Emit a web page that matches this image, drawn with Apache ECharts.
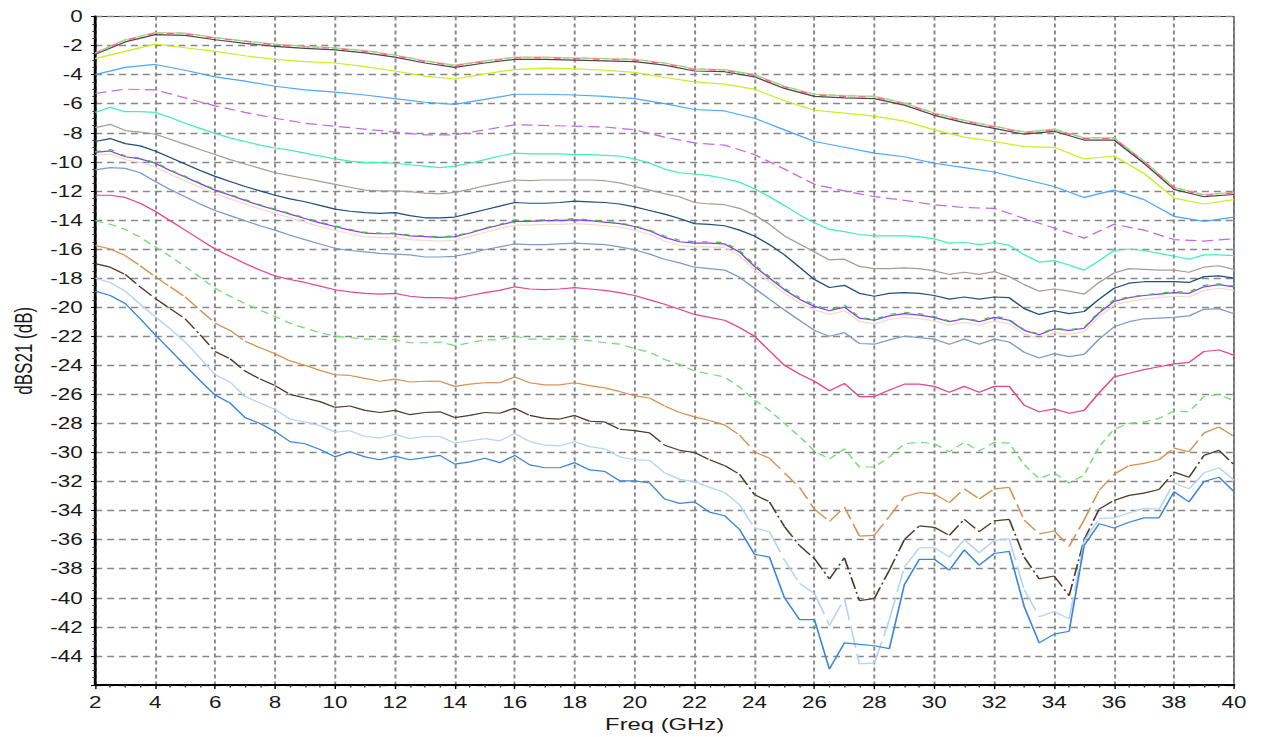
<!DOCTYPE html>
<html>
<head>
<meta charset="utf-8">
<title>dBS21 vs Freq</title>
<script src="https://cdn.jsdelivr.net/npm/echarts@6/dist/echarts.min.js"></script>
<style>
  html, body { margin: 0; padding: 0; background: #fff; }
  #wrap { width: 1263px; height: 737px; overflow: hidden; background: #fff; }
  /* the plot is laid out on a narrower canvas and widened horizontally */
  #chart { width: 902px; height: 737px; transform: scaleX(1.4); transform-origin: 0 0; }
</style>
</head>
<body>
<div id="wrap"><div id="chart"></div></div>
<script>
// Frequency grids (GHz)
const freqCoarse = [2,3,4,5,6,7,8,9,10,11,12,13,14,15,16,17,18,19,20,21,22,23,24,25,26,27,28,29,30,31,32,33,34,35,36,37,38,39,40];
const freqFine = [2,2.5,3,3.5,4,4.5,5,5.5,6,6.5,7,7.5,8,8.5,9,9.5,10,10.5,11,11.5,12,12.5,13,13.5,14,14.5,15,15.5,16,16.5,17,17.5,18,18.5,19,19.5,20,20.5,21,21.5,22,22.5,23,23.5,24,24.5,25,25.5,26,26.5,27,27.5,28,28.5,29,29.5,30,30.5,31,31.5,32,32.5,33,33.5,34,34.5,35,35.5,36,36.5,37,37.5,38,38.5,39,39.5,40];

const xTicks = [2,4,6,8,10,12,14,16,18,20,22,24,26,28,30,32,34,36,38,40];
const yTicks = [0,-2,-4,-6,-8,-10,-12,-14,-16,-18,-20,-22,-24,-26,-28,-30,-32,-34,-36,-38,-40,-42,-44];

// dBS21 traces on the 1 GHz grid
const s21Top1 = [-2.6,-1.75,-1.25,-1.3,-1.6,-1.85,-2.05,-2.2,-2.3,-2.5,-2.8,-3.2,-3.5,
  -3.2,-2.95,-2.95,-3.0,-3.05,-3.1,-3.35,-3.75,-3.8,-4.15,-4.95,-5.5,
  -5.6,-5.65,-6.1,-6.8,-7.3,-7.7,-8.1,-7.9,-8.5,-8.5,-10.1,-11.9,-12.4,-12.25];
const s21Top2 = [-2.5,-1.6,-1.1,-1.15,-1.45,-1.7,-1.9,-2.05,-2.15,-2.35,-2.65,-3.05,-3.35,
  -3.05,-2.8,-2.8,-2.85,-2.9,-2.95,-3.2,-3.6,-3.65,-4.0,-4.8,-5.35,
  -5.45,-5.5,-5.95,-6.65,-7.15,-7.55,-7.95,-7.75,-8.35,-8.35,-9.95,-11.75,-12.25,-12.1];
const s21Top3 = [-2.55,-1.65,-1.15,-1.2,-1.5,-1.7,-1.95,-2.1,-2.2,-2.4,-2.7,-3.1,-3.4,
  -3.1,-2.85,-2.85,-2.9,-2.95,-3.0,-3.25,-3.65,-3.7,-4.05,-4.85,-5.4,
  -5.5,-5.55,-6.0,-6.7,-7.2,-7.6,-8.0,-7.8,-8.4,-8.4,-10.0,-11.8,-12.3,-12.15];
const s21Top4 = [-2.55,-1.6,-1.15,-1.15,-1.45,-1.7,-1.9,-2.05,-2.2,-2.35,-2.65,-3.05,-3.4,
  -3.05,-2.8,-2.85,-2.85,-2.9,-2.95,-3.2,-3.6,-3.7,-4.0,-4.8,-5.35,
  -5.45,-5.5,-5.95,-6.65,-7.15,-7.55,-7.95,-7.8,-8.35,-8.35,-9.95,-11.75,-12.3,-12.1];
const s21Yellow = [-2.9,-2.4,-1.9,-2.15,-2.4,-2.7,-2.95,-3.1,-3.2,-3.45,-3.75,-4.1,-4.3,
  -3.95,-3.65,-3.55,-3.6,-3.7,-3.85,-4.2,-4.5,-4.65,-5.0,-5.8,-6.45,
  -6.65,-6.85,-7.2,-7.8,-8.3,-8.6,-8.95,-9.0,-9.8,-9.6,-10.8,-12.5,-12.9,-12.6];
const s21Sky = [-4.0,-3.5,-3.3,-3.7,-4.15,-4.45,-4.8,-5.05,-5.2,-5.4,-5.65,-5.9,-6.05,
  -5.7,-5.35,-5.35,-5.4,-5.5,-5.65,-6.0,-6.4,-6.5,-7.0,-7.8,-8.6,
  -9.0,-9.4,-9.65,-10.1,-10.4,-10.7,-11.2,-11.7,-12.45,-11.95,-12.6,-13.75,-14.1,-13.8];
const s21Violet = [-5.3,-5.0,-5.05,-5.6,-6.15,-6.6,-7.0,-7.35,-7.55,-7.75,-7.95,-8.15,-8.15,
  -7.8,-7.45,-7.5,-7.55,-7.6,-7.8,-8.3,-8.7,-8.85,-9.5,-10.5,-11.55,
  -12.0,-12.4,-12.65,-12.95,-13.15,-13.2,-13.9,-14.55,-15.25,-14.3,-14.7,-15.35,-15.45,-15.3];

// dBS21 traces on the 0.5 GHz grid
const s21Aqua = [-6.6,-6.25,-6.55,-6.55,-6.6,-6.95,-7.35,-7.7,-8.05,-8.35,
  -8.6,-8.85,-9.05,-9.2,-9.4,-9.6,-9.8,-9.95,-10.05,-10.05,
  -10.1,-10.2,-10.3,-10.4,-10.3,-10.1,-9.85,-9.6,-9.4,-9.45,
  -9.45,-9.45,-9.5,-9.5,-9.55,-9.6,-9.8,-10.1,-10.5,-10.75,
  -10.85,-10.95,-11.15,-11.4,-11.85,-12.4,-13.0,-13.65,-14.2,-14.65,
  -14.8,-15.0,-15.1,-15.1,-15.1,-15.15,-15.3,-15.6,-15.55,-15.7,
  -15.55,-15.75,-16.4,-16.9,-16.8,-17.1,-17.45,-16.8,-16.1,-16.0,
  -16.1,-16.3,-16.5,-16.7,-16.4,-16.4,-16.45];
const s21Taupe = [-7.65,-7.42,-7.85,-7.95,-8.1,-8.45,-8.8,-9.15,-9.5,-9.85,
  -10.15,-10.45,-10.75,-10.95,-11.15,-11.35,-11.55,-11.75,-11.95,-12.0,
  -12.0,-12.05,-12.15,-12.2,-12.1,-11.9,-11.65,-11.45,-11.25,-11.3,
  -11.25,-11.25,-11.25,-11.25,-11.3,-11.45,-11.7,-11.95,-12.2,-12.4,
  -12.8,-12.9,-12.95,-13.2,-13.65,-14.3,-15.1,-15.65,-16.2,-16.75,
  -16.7,-17.2,-17.35,-17.35,-17.3,-17.35,-17.5,-17.75,-17.6,-17.75,
  -17.55,-17.9,-18.45,-18.9,-18.75,-18.9,-19.1,-18.3,-17.65,-17.35,
  -17.4,-17.45,-17.45,-17.6,-17.25,-17.15,-17.4];
const s21Navy = [-8.6,-8.4,-8.75,-8.9,-9.25,-9.7,-10.15,-10.6,-11.0,-11.35,
  -11.7,-12.0,-12.3,-12.55,-12.75,-13.0,-13.25,-13.4,-13.5,-13.55,
  -13.5,-13.7,-13.85,-13.85,-13.8,-13.55,-13.3,-13.05,-12.8,-12.85,
  -12.85,-12.8,-12.7,-12.75,-12.8,-12.9,-13.1,-13.35,-13.6,-13.9,
  -14.25,-14.3,-14.4,-14.7,-15.1,-15.7,-16.4,-17.25,-18.1,-18.65,
  -18.5,-19.05,-19.25,-19.05,-19.0,-19.05,-19.2,-19.45,-19.3,-19.45,
  -19.3,-19.35,-20.1,-20.5,-20.25,-20.45,-20.3,-19.45,-18.7,-18.35,
  -18.25,-18.25,-18.25,-18.3,-17.9,-17.85,-18.0];
const s21Peach = [-9.55,-9.45,-9.85,-10.05,-10.35,-10.85,-11.3,-11.75,-12.2,-12.55,
  -12.9,-13.25,-13.55,-13.85,-14.15,-14.45,-14.7,-14.95,-15.15,-15.2,
  -15.2,-15.35,-15.4,-15.45,-15.4,-15.15,-14.85,-14.6,-14.35,-14.35,
  -14.3,-14.3,-14.25,-14.3,-14.4,-14.5,-14.7,-15.0,-15.45,-15.75,
  -15.85,-15.85,-15.9,-16.45,-17.45,-18.25,-19.05,-19.7,-20.2,-20.5,
  -20.25,-21.0,-21.15,-20.85,-20.7,-20.8,-20.95,-21.25,-21.05,-21.25,
  -20.95,-21.15,-21.85,-22.15,-21.75,-21.85,-21.7,-20.65,-19.85,-19.6,
  -19.45,-19.35,-19.25,-19.3,-18.85,-18.7,-18.85];
const s21Purple = [-9.35,-9.25,-9.65,-9.8,-10.1,-10.6,-11.05,-11.5,-11.95,-12.3,
  -12.65,-13.0,-13.3,-13.6,-13.9,-14.2,-14.45,-14.7,-14.9,-14.95,
  -14.95,-15.1,-15.15,-15.2,-15.15,-14.9,-14.6,-14.35,-14.1,-14.1,
  -14.05,-14.05,-14.0,-14.05,-14.15,-14.25,-14.45,-14.75,-15.2,-15.5,
  -15.6,-15.6,-15.65,-16.2,-17.2,-18.0,-18.8,-19.45,-19.95,-20.25,
  -20.0,-20.75,-20.9,-20.6,-20.45,-20.55,-20.7,-21.0,-20.8,-21.0,
  -20.7,-20.9,-21.6,-21.9,-21.5,-21.6,-21.45,-20.4,-19.6,-19.35,
  -19.2,-19.1,-19.0,-19.05,-18.6,-18.45,-18.6];
const s21Lime = [-9.3,-9.15,-9.6,-9.75,-10.05,-10.55,-11.0,-11.45,-11.9,-12.25,
  -12.6,-12.95,-13.25,-13.55,-13.85,-14.15,-14.4,-14.65,-14.85,-14.9,
  -14.9,-15.05,-15.1,-15.15,-15.1,-14.85,-14.55,-14.3,-14.0,-14.05,
  -14.0,-14.0,-13.9,-14.0,-14.1,-14.2,-14.4,-14.7,-15.1,-15.4,
  -15.5,-15.5,-15.55,-16.1,-17.1,-17.9,-18.7,-19.35,-19.85,-20.2,
  -19.85,-20.7,-20.85,-20.5,-20.35,-20.45,-20.65,-20.95,-20.75,-20.95,
  -20.6,-20.85,-21.55,-21.85,-21.45,-21.55,-21.4,-20.3,-19.5,-19.3,
  -19.15,-19.05,-18.95,-18.95,-18.5,-18.4,-18.55];
const s21Steel = [-10.55,-10.4,-10.45,-10.75,-11.35,-11.9,-12.4,-12.9,-13.35,-13.7,
  -14.05,-14.4,-14.7,-15.05,-15.35,-15.65,-15.95,-16.1,-16.2,-16.3,
  -16.35,-16.4,-16.55,-16.55,-16.5,-16.3,-16.05,-15.85,-15.65,-15.7,
  -15.7,-15.65,-15.6,-15.65,-15.7,-15.85,-16.05,-16.35,-16.7,-16.95,
  -17.25,-17.35,-17.45,-17.95,-18.7,-19.45,-20.2,-20.9,-21.6,-22.0,
  -21.75,-22.5,-22.55,-22.25,-22.0,-22.1,-22.2,-22.55,-22.2,-22.55,
  -22.2,-22.4,-23.1,-23.5,-23.2,-23.4,-23.25,-22.2,-21.35,-21.0,
  -20.8,-20.75,-20.7,-20.6,-20.15,-20.1,-20.45];
const s21Rose = [-12.3,-12.3,-12.45,-12.85,-13.4,-14.05,-14.7,-15.35,-16.0,-16.5,
  -17.0,-17.45,-17.85,-18.1,-18.3,-18.55,-18.8,-18.95,-19.05,-19.1,
  -19.05,-19.25,-19.35,-19.35,-19.4,-19.2,-19.0,-18.85,-18.6,-18.75,
  -18.8,-18.75,-18.65,-18.75,-18.85,-19.0,-19.2,-19.5,-19.8,-20.15,
  -20.5,-20.7,-20.9,-21.4,-22.0,-23.0,-24.0,-24.6,-25.1,-25.75,
  -25.25,-26.15,-26.15,-25.7,-25.3,-25.3,-25.45,-25.85,-25.45,-25.85,
  -25.45,-25.45,-26.75,-27.2,-27.0,-27.3,-27.1,-25.9,-24.8,-24.55,
  -24.3,-24.1,-23.9,-23.8,-23.05,-22.95,-23.3];
const s21Mint = [-14.05,-14.3,-14.65,-15.2,-15.85,-16.5,-17.2,-17.95,-18.7,-19.25,
  -19.75,-20.2,-20.65,-21.1,-21.45,-21.75,-22.0,-22.1,-22.2,-22.2,
  -22.25,-22.45,-22.45,-22.4,-22.65,-22.45,-22.25,-22.25,-22.0,-22.2,
  -22.2,-22.2,-22.2,-22.3,-22.45,-22.55,-22.85,-23.1,-23.6,-23.95,
  -24.4,-24.6,-24.8,-25.5,-26.4,-27.1,-28.0,-28.9,-29.9,-30.45,
  -29.75,-31.0,-31.0,-30.3,-29.4,-29.3,-29.4,-29.95,-29.3,-29.9,
  -29.3,-29.35,-30.85,-31.8,-31.4,-32.1,-31.55,-29.6,-28.4,-28.0,
  -27.9,-27.65,-27.15,-27.2,-26.15,-26.0,-26.45];
const s21Amber = [-15.75,-16.0,-16.45,-17.15,-17.9,-18.6,-19.3,-20.2,-21.1,-21.6,
  -22.35,-22.8,-23.2,-23.7,-24.0,-24.35,-24.65,-24.7,-24.9,-25.1,
  -24.95,-25.15,-25.1,-25.1,-25.45,-25.3,-25.2,-25.2,-24.8,-25.2,
  -25.35,-25.35,-25.2,-25.4,-25.55,-25.8,-26.1,-26.25,-26.8,-27.25,
  -27.55,-27.8,-28.1,-28.8,-29.95,-30.4,-31.4,-32.4,-33.9,-34.75,
  -33.75,-35.75,-35.7,-34.4,-33.05,-32.75,-32.85,-33.45,-32.5,-33.2,
  -32.5,-32.4,-34.65,-35.6,-35.4,-36.45,-34.65,-32.6,-31.5,-30.9,
  -30.75,-30.5,-29.7,-29.95,-28.65,-28.25,-28.9];
const s21Umber = [-17.0,-17.25,-17.75,-18.6,-19.4,-20.1,-20.8,-21.9,-23.05,-23.55,
  -24.4,-24.95,-25.4,-26.0,-26.25,-26.5,-26.9,-26.8,-27.1,-27.25,
  -27.1,-27.4,-27.25,-27.2,-27.6,-27.45,-27.25,-27.3,-26.95,-27.45,
  -27.65,-27.7,-27.45,-27.85,-27.9,-28.4,-28.5,-28.65,-29.5,-29.85,
  -30.0,-30.5,-30.9,-31.5,-32.9,-33.4,-35.1,-36.4,-37.3,-38.7,
  -37.25,-40.2,-40.05,-38.1,-36.0,-35.05,-35.15,-35.7,-34.6,-35.45,
  -34.7,-34.6,-37.2,-38.7,-38.5,-39.85,-36.0,-33.9,-33.3,-32.95,
  -32.8,-32.55,-31.35,-31.7,-30.2,-29.85,-30.85];
const s21Ice = [-18.0,-18.3,-18.9,-19.8,-20.65,-21.5,-22.4,-23.5,-24.65,-25.15,
  -26.15,-26.6,-27.05,-27.7,-27.9,-28.15,-28.6,-28.5,-28.9,-29.0,
  -28.75,-29.05,-28.9,-28.9,-29.35,-29.2,-29.05,-29.2,-28.7,-29.25,
  -29.5,-29.55,-29.25,-29.6,-29.75,-30.3,-30.5,-30.55,-31.4,-31.85,
  -32.0,-32.4,-32.75,-33.6,-35.2,-35.45,-37.4,-39.0,-39.7,-41.9,
  -40.05,-44.55,-44.5,-41.5,-37.9,-36.55,-36.55,-37.2,-36.0,-36.9,
  -36.05,-35.95,-39.45,-41.3,-40.95,-41.45,-36.1,-34.55,-34.5,-34.15,
  -33.85,-33.9,-32.1,-32.5,-31.4,-31.05,-31.9];
const s21Azure = [-18.9,-19.2,-19.75,-20.8,-21.9,-22.95,-24.0,-25.05,-26.05,-26.6,
  -27.6,-28.0,-28.55,-29.25,-29.4,-29.8,-30.3,-29.95,-30.3,-30.5,
  -30.25,-30.5,-30.35,-30.2,-30.8,-30.65,-30.4,-30.7,-30.2,-30.85,
  -31.05,-31.05,-30.7,-31.2,-31.3,-31.95,-31.95,-32.1,-33.2,-33.5,
  -33.4,-34.1,-34.35,-35.3,-37.0,-37.2,-40.0,-41.5,-41.5,-44.9,
  -43.1,-43.2,-43.3,-43.5,-39.1,-37.35,-37.35,-38.1,-36.7,-37.75,
  -36.95,-36.8,-40.6,-43.1,-42.5,-42.3,-36.4,-34.9,-35.2,-34.8,
  -34.5,-34.5,-32.7,-33.4,-32.0,-31.7,-32.7];

// Trace styling; "segmented" traces restart their dash pattern on every segment
const traces = [
  { freq: freqCoarse, values: s21Top1,   color: '#4a4a4a' },
  { freq: freqCoarse, values: s21Top2,   color: '#e6b48a' },
  { freq: freqCoarse, values: s21Top3,   color: '#f2619a', dash: [5, 9] },
  { freq: freqCoarse, values: s21Top4,   color: '#7fe37f', dash: [5, 9], offset: 7 },
  { freq: freqCoarse, values: s21Yellow, color: '#c9ee1c' },
  { freq: freqCoarse, values: s21Sky,    color: '#4ea7fb' },
  { freq: freqCoarse, values: s21Violet, color: '#c566e6', dash: [8, 4] },
  { freq: freqFine,   values: s21Aqua,   color: '#3ff0b6' },
  { freq: freqFine,   values: s21Taupe,  color: '#a89e97' },
  { freq: freqFine,   values: s21Navy,   color: '#1f4f7c' },
  { freq: freqFine,   values: s21Peach,  color: '#f1dccb' },
  { freq: freqFine,   values: s21Purple, color: '#8a3df7' },
  { freq: freqFine,   values: s21Lime,   color: '#35c93a', dash: [4, 6] },
  { freq: freqFine,   values: s21Steel,  color: '#7e9cc6' },
  { freq: freqFine,   values: s21Rose,   color: '#e8468b' },
  { freq: freqFine,   values: s21Mint,   color: '#6ee06e', dash: [6, 4] },
  { freq: freqFine,   values: s21Amber,  color: '#d8904f', dash: [13, 5], segmented: true },
  { freq: freqFine,   values: s21Umber,  color: '#4b3a2b', dash: [12, 3, 2, 3], segmented: true },
  { freq: freqFine,   values: s21Ice,    color: '#b5d3f3', dash: [22, 6], segmented: true },
  { freq: freqFine,   values: s21Azure,  color: '#3a86dc' }
];

const LINE_W = 1.2;
const FONT = "'Liberation Sans', Arial, sans-serif";

function toPoints(xs, ys) { return xs.map((x, i) => [x, ys[i]]); }
function toSegments(xs, ys) {
  const out = [];
  for (let i = 0; i < xs.length - 1; i++) out.push([xs[i], ys[i], xs[i + 1], ys[i + 1]]);
  return out;
}

const series = traces.map(t => {
  if (t.segmented) {
    return {
      type: 'custom',
      silent: true,
      clip: true,
      data: toSegments(t.freq, t.values),
      encode: { x: [0, 2], y: [1, 3] },
      renderItem: (params, api) => {
        const a = api.coord([api.value(0), api.value(1)]);
        const b = api.coord([api.value(2), api.value(3)]);
        return {
          type: 'line',
          shape: { x1: a[0], y1: a[1], x2: b[0], y2: b[1] },
          style: { stroke: t.color, lineWidth: LINE_W, lineDash: t.dash, fill: null }
        };
      }
    };
  }
  return {
    type: 'line',
    silent: true,
    symbol: 'none',
    data: toPoints(t.freq, t.values),
    lineStyle: { color: t.color, width: LINE_W, type: t.dash || 'solid', dashOffset: t.offset || 0 },
    itemStyle: { color: t.color }
  };
});

const chart = echarts.init(document.getElementById('chart'), null, { renderer: 'svg' });
chart.setOption({
  animation: false,
  backgroundColor: '#ffffff',
  grid: { left: 65.7, right: 20.6, top: 16.5, bottom: 52, show: true, borderColor: '#333', borderWidth: 1, backgroundColor: '#fff' },
  xAxis: {
    type: 'value', min: xTicks[0], max: xTicks[xTicks.length - 1], interval: 2,
    name: 'Freq (GHz)', nameLocation: 'middle', nameGap: 30,
    nameTextStyle: { color: '#1a1a1a', fontSize: 17, fontFamily: FONT },
    axisLine: { show: true, onZero: false, lineStyle: { color: '#000', width: 2 } },
    axisTick: { show: true, length: 4, lineStyle: { color: '#000', width: 1 } },
    minorTick: { show: true, splitNumber: 4, length: 2.5, lineStyle: { color: '#333', width: 1 } },
    splitLine: { show: true, lineStyle: { color: '#888888', width: 1.4, type: [4, 3] } },
    axisLabel: { color: '#1a1a1a', fontSize: 16, fontFamily: FONT, margin: 9, showMinLabel: true, showMaxLabel: true,
      formatter: v => (xTicks.includes(v) ? String(v) : '') }
  },
  yAxis: {
    type: 'value', min: -46, max: yTicks[0], interval: 2,
    name: 'dBS21 (dB)', nameLocation: 'middle', nameGap: 40,
    nameTextStyle: { color: '#1a1a1a', fontSize: 17, fontFamily: FONT },
    axisLine: { show: true, onZero: false, lineStyle: { color: '#000', width: 2 } },
    axisTick: { show: true, length: 3, lineStyle: { color: '#000', width: 1 } },
    minorTick: { show: true, splitNumber: 4, length: 2, lineStyle: { color: '#333', width: 1 } },
    splitLine: { show: true, lineStyle: { color: '#888888', width: 1.4, type: [5, 3.5] } },
    axisLabel: { color: '#1a1a1a', fontSize: 16, fontFamily: FONT, margin: 9,
      formatter: v => (yTicks.includes(v) ? String(v) : '') }
  },
  series: series
});
</script>
</body>
</html>
